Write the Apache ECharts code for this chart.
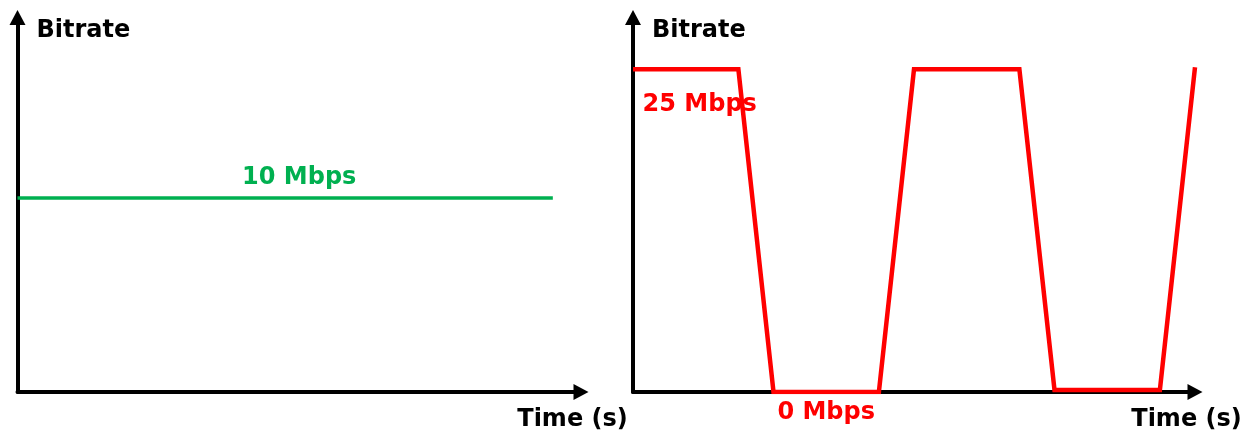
<!DOCTYPE html>
<html>
<head>
<meta charset="utf-8">
<script src="https://cdn.jsdelivr.net/npm/echarts@6/dist/echarts.min.js"></script>
<style>
  html, body { margin: 0; padding: 0; background: #fff; }
  #chart { width: 1252px; height: 434px; }
</style>
</head>
<body>
<div id="chart"></div>
<script>
// constant bitrate (left) vs variable bitrate (right)
var cbrTime = [0, 7.6]
var cbrRate = [10, 10]
var vbrTime = [0, 1.5, 2, 3.5, 4, 5.5, 6, 7.5, 8]
var vbrRate = [25, 25, 0, 0, 25, 25, 0.15, 0.15, 25.15]

// where the value labels sit: [time, rate, text, side, gap]
var cbrLabels = [[4, 10, '10 Mbps', 'top', 8]]
var vbrLabels = [[0.95, 25, '25 Mbps', 'bottom', 23], [2.75, 0, '0 Mbps', 'bottom', 8]]

var FONT = 'DejaVu Sans'
var FONT_SIZE = 24
var GREEN = '#00b050'
var RED = '#ff0000'

function zip(xs, ys) {
  return xs.map(function (x, i) { return [x, ys[i]] })
}

var axisLine = {
  show: true,
  symbol: ['none', 'triangle'],
  symbolSize: [16, 15],
  lineStyle: { color: '#000', width: 4 }
}

function xAxis(idx) {
  return {
    type: 'value', gridIndex: idx, min: 0, max: 8,
    name: 'Time (s)', nameLocation: 'end', nameGap: -8.5,
    nameTextStyle: {
      fontFamily: FONT, fontWeight: 'bold', fontSize: FONT_SIZE, color: '#000',
      align: 'center', verticalAlign: 'top', padding: [16, 0, 0, 0]
    },
    axisLine: axisLine,
    axisTick: { show: false }, axisLabel: { show: false }, splitLine: { show: false }
  }
}

function yAxis(idx, max) {
  return {
    type: 'value', gridIndex: idx, min: 0, max: max,
    name: 'Bitrate', nameLocation: 'end', nameGap: -13,
    nameTextStyle: {
      fontFamily: FONT, fontWeight: 'bold', fontSize: FONT_SIZE, color: '#000',
      align: 'left', verticalAlign: 'middle', padding: [0, 0, 0, 19]
    },
    axisLine: axisLine,
    axisTick: { show: false }, axisLabel: { show: false }, splitLine: { show: false }
  }
}

function marks(list, color) {
  return {
    symbol: 'circle', symbolSize: 1,
    itemStyle: { color: 'rgba(0,0,0,0)' },
    data: list.map(function (l) {
      return {
        name: l[2], coord: [l[0], l[1]],
        label: {
          show: true, position: l[3], distance: l[4],
          fontFamily: FONT, fontWeight: 'bold', fontSize: FONT_SIZE, color: color,
          formatter: l[2]
        }
      }
    })
  }
}

var chart = echarts.init(document.getElementById('chart'))
var option = {
  animation: false,
  grid: [
    { left: 17.5, top: 17.5, width: 563.5, height: 374.5, outerBoundsMode: 'none' },
    { left: 633, top: 17.5, width: 562, height: 374.5, outerBoundsMode: 'none' }
  ],
  xAxis: [xAxis(0), xAxis(1)],
  yAxis: [yAxis(0, 19.3), yAxis(1, 29)],
  series: [
    {
      type: 'line', xAxisIndex: 0, yAxisIndex: 0,
      data: zip(cbrTime, cbrRate), showSymbol: false,
      lineStyle: { color: GREEN, width: 3.5 },
      markPoint: marks(cbrLabels, GREEN)
    },
    {
      type: 'line', xAxisIndex: 1, yAxisIndex: 1,
      data: zip(vbrTime, vbrRate), showSymbol: false,
      lineStyle: { color: RED, width: 4.5, join: 'miter' },
      markPoint: marks(vbrLabels, RED)
    }
  ]
}
chart.setOption(option)
</script>
</body>
</html>
